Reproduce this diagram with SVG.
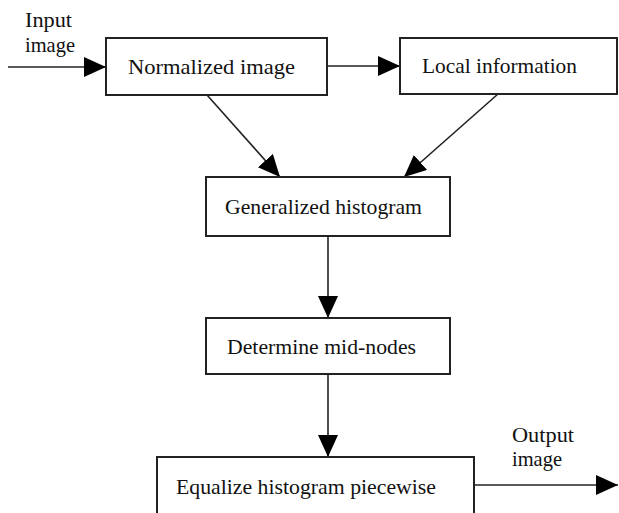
<svg xmlns="http://www.w3.org/2000/svg" width="619" height="513" viewBox="0 0 619 513">
<style>
.box{fill:#fff;stroke:#222;stroke-width:2}
.lbl{font-family:'Liberation Serif','Times New Roman','DejaVu Serif',serif;font-size:21px;fill:#111}
.conn{stroke:#222;stroke-width:1.6;fill:none}
</style>
<defs>
<marker id="ah" markerUnits="userSpaceOnUse" markerWidth="24" markerHeight="22" refX="22" refY="10" orient="auto">
<path d="M0,0 L22,10 L0,20 z" fill="#000"/>
</marker>
</defs>
<rect width="619" height="513" fill="#fff"/>
<g id="connectors">
<line class="conn" x1="8" y1="67" x2="106" y2="67" marker-end="url(#ah)"/>
<line class="conn" x1="327" y1="66" x2="400" y2="66" marker-end="url(#ah)"/>
<line class="conn" x1="207" y1="95" x2="280" y2="177" marker-end="url(#ah)"/>
<line class="conn" x1="498" y1="94" x2="404" y2="177" marker-end="url(#ah)"/>
<line class="conn" x1="328" y1="236" x2="328" y2="318" marker-end="url(#ah)"/>
<line class="conn" x1="328" y1="374" x2="328" y2="457" marker-end="url(#ah)"/>
<line class="conn" x1="474" y1="485" x2="618" y2="485" marker-end="url(#ah)"/>
</g>
<g id="input-label">
<text class="lbl" x="25" y="27" font-family="Liberation Serif" textLength="47" lengthAdjust="spacingAndGlyphs">Input</text>
<text class="lbl" x="25" y="52" font-family="Liberation Serif" textLength="50" lengthAdjust="spacingAndGlyphs">image</text>
</g>
<g id="normalized">
<rect class="box" x="106" y="38" width="221" height="57"/>
<text class="lbl" x="128" y="74" font-family="Liberation Serif" textLength="167" lengthAdjust="spacingAndGlyphs">Normalized image</text>
</g>
<g id="local">
<rect class="box" x="400" y="38" width="217" height="56"/>
<text class="lbl" x="422" y="73" font-family="Liberation Serif" textLength="155" lengthAdjust="spacingAndGlyphs">Local information</text>
</g>
<g id="generalized">
<rect class="box" x="206" y="177" width="244" height="59"/>
<text class="lbl" x="225" y="214" font-family="Liberation Serif" textLength="197" lengthAdjust="spacingAndGlyphs">Generalized histogram</text>
</g>
<g id="determine">
<rect class="box" x="206" y="318" width="244" height="56"/>
<text class="lbl" x="227" y="354" font-family="Liberation Serif" textLength="189" lengthAdjust="spacingAndGlyphs">Determine mid-nodes</text>
</g>
<g id="equalize">
<rect class="box" x="157" y="457" width="317" height="70"/>
<text class="lbl" x="176" y="494" font-family="Liberation Serif" textLength="260" lengthAdjust="spacingAndGlyphs">Equalize histogram piecewise</text>
</g>
<g id="output-label">
<text class="lbl" x="512" y="442" font-family="Liberation Serif" textLength="62" lengthAdjust="spacingAndGlyphs">Output</text>
<text class="lbl" x="512" y="466" font-family="Liberation Serif" textLength="50" lengthAdjust="spacingAndGlyphs">image</text>
</g>
</svg>
